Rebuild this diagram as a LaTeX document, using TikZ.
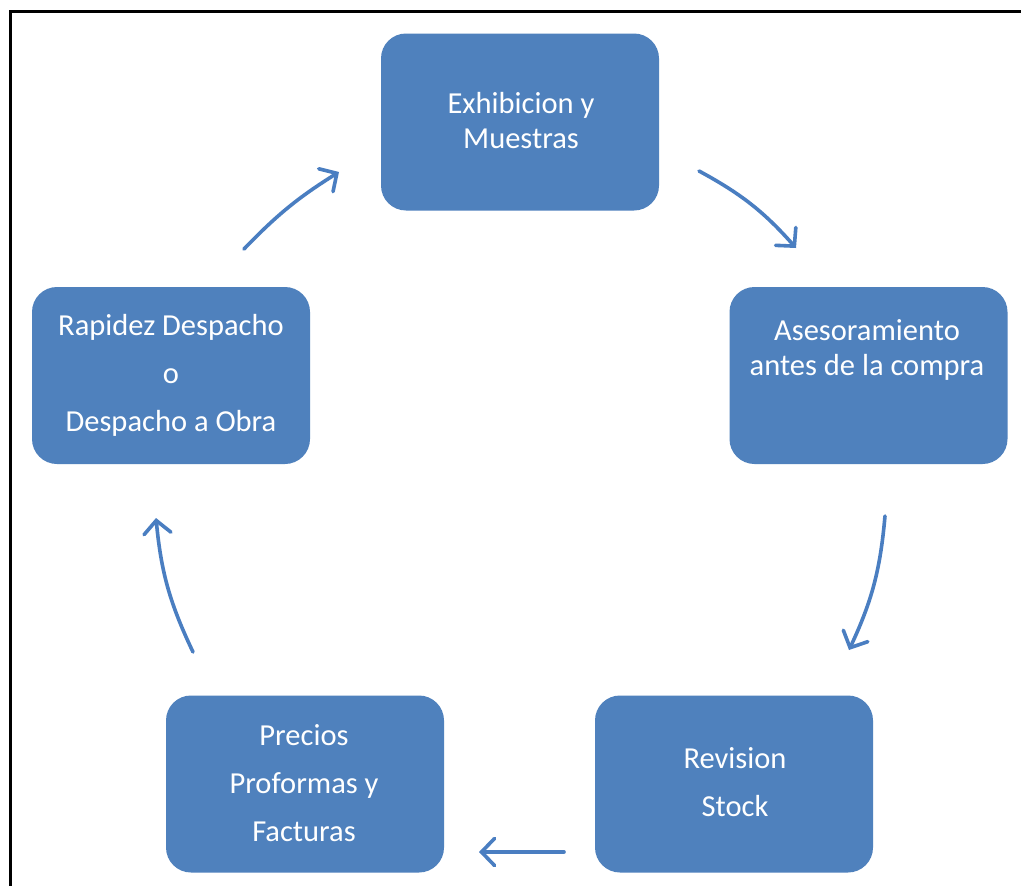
\documentclass[tikz,border=0pt]{standalone}
\usepackage{fontspec}
\newfontfamily\carlito{Carlito}
\usetikzlibrary{arrows.meta}
\definecolor{boxblue}{HTML}{4F81BD}
\definecolor{arrowblue}{HTML}{4A7EC1}
\tikzset{
  stagebox/.style={draw=none, fill=boxblue, rounded corners=25pt,
    minimum width=278pt, minimum height=177pt, inner sep=0pt},
  stagetext/.style={text=white, align=center, inner sep=0pt,
    font=\carlito\fontsize{30.5}{35}\selectfont},
  widetext/.style={stagetext, font=\carlito\fontsize{30.5}{48}\selectfont},
  flow/.style={draw=arrowblue, line width=3.6pt, line cap=round,
    -{Straight Barb[length=13pt,width=27pt,line cap=round]}},
  frameline/.style={draw=black, line width=3pt}
}
\begin{document}
\begin{tikzpicture}[x=1pt, y=-1pt]
  \useasboundingbox (0,0) rectangle (1021,886);
  \fill[white] (0,0) rectangle (1021,886);

  % frame corner
  \coordinate (fA) at (10.5,886);
  \coordinate (fB) at (10.5,11);
  \coordinate (fC) at (1021,11);
  \draw[frameline] (fA) -- (fB) -- (fC);

  % stage boxes
  \node[stagebox] (exh) at (520,122) {};
  \node[stagebox] (ase) at (868.5,375.5) {};
  \node[stagebox] (rev) at (734,784) {};
  \node[stagebox] (pre) at (305,784) {};
  \node[stagebox] (rap) at (171,375.5) {};

  % labels
  \node[stagetext] (exhT) at (521,121) {Exhibicion y\\Muestras};
  \node[stagetext] (aseT) at (867,350) {Asesoramiento\\antes de la compra};
  \node[widetext]  (revT) at (735,782) {Revision\\Stock};
  \node[widetext]  (preT) at (304,783) {Precios\\Proformas y\\Facturas};
  \node[widetext]  (rapT) at (171,375) {Rapidez Despacho\\o\\Despacho a Obra};

  % connector ends
  \coordinate (ab1) at (699,171);
  \coordinate (ab2) at (796,248);
  \coordinate (bc1) at (885,516);
  \coordinate (bc2) at (849,650);
  \coordinate (cd1) at (564,852);
  \coordinate (cd2) at (479,852);
  \coordinate (de1) at (193,652);
  \coordinate (de2) at (156,518);
  \coordinate (ea1) at (244,249);
  \coordinate (ea2) at (339,172);

  % cycle arrows
  \draw[flow] (ab1) to[bend left=10] (ab2);
  \draw[flow] (bc1) to[bend left=10] (bc2);
  \draw[flow] (cd1) -- (cd2);
  \draw[flow] (de1) to[bend left=10] (de2);
  \draw[flow] (ea1) to[bend left=7] (ea2);
\end{tikzpicture}
\end{document}
